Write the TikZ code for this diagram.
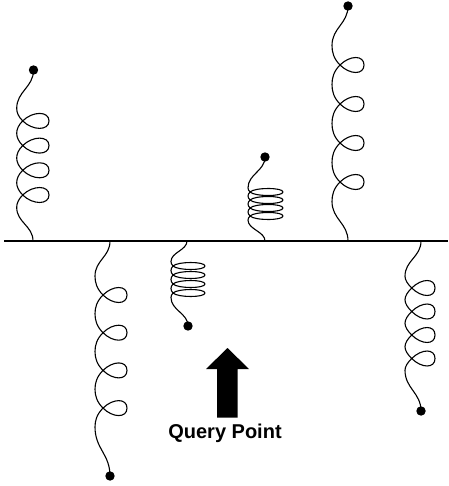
\documentclass[tikz,border=0pt]{standalone}
\usepackage{fontspec}
\setmainfont{Liberation Sans}
\pgfkeys{/spr/.is family,/spr,
  bx/.store in=\sbx, by/.store in=\sby, dx/.store in=\sdx, dy/.store in=\sdy,
  xc/.store in=\sxc, xl/.store in=\sxl, xr/.store in=\sxr, yone/.store in=\syone,
  d/.store in=\sd, n/.store in=\sn, h/.store in=\sh}
\tikzset{
  springline/.style={line width=1.1pt, line cap=round, line join=round},
  ground/.style={line width=1.8pt},
  dotmark/.style={fill=black},
  qarrow/.style={fill=black},
  qlabel/.style={font=\fontsize{20}{24}\selectfont\bfseries, inner sep=0pt}
}
\newcommand\drawspring[2]{%
  \pgfkeys{/spr,#2}%
  \pgfmathsetmacro\sf{sign(\sd)}%
  \pgfmathsetmacro\shs{(\sd)/2}%
  \pgfmathsetmacro\sa{1.33*\sh}%
  \pgfmathsetmacro\sb{abs(\sd)/6}%
  \pgfmathsetmacro\syB{\syone-(\shs)}%
  \pgfmathsetmacro\sL{abs(\syB-\sby)*0.45}%
  \pgfmathsetmacro\syN{\syone+(\sn-1)*(\sd)}%
  \pgfmathsetmacro\syE{\syN+(\shs)}%
  \pgfmathsetmacro\sLe{abs(\sdy-\syE)*0.45}%
  \coordinate (#1base) at (\sbx,\sby);
  \coordinate (#1end) at (\sdx,\sdy);
  \draw[springline] (#1base) .. controls (\sbx,{\sby+(\sf)*\sL}) and (\sxl,{\syB-(\sf)*\sL}) .. (\sxl,\syB)
    foreach \k in {1,...,\sn} {
      .. controls (\sxl,{\syone+(\k-1)*(\sd)-(\shs)+(\sf)*\sb}) and ({\sxc-\sb},{\syone+(\k-1)*(\sd)-(\sf)*\sb}) .. (\sxc,{\syone+(\k-1)*(\sd)})
      .. controls ({\sxc+\sa},{\syone+(\k-1)*(\sd)+(\sf)*\sa}) and (\sxr,{\syone+(\k-1)*(\sd)+(\sf)*\sa}) .. (\sxr,{\syone+(\k-1)*(\sd)})
      .. controls (\sxr,{\syone+(\k-1)*(\sd)-(\sf)*\sa}) and ({\sxc+\sa},{\syone+(\k-1)*(\sd)-(\sf)*\sa}) .. (\sxc,{\syone+(\k-1)*(\sd)})
      .. controls ({\sxc-\sb},{\syone+(\k-1)*(\sd)+(\sf)*\sb}) and (\sxl,{\syone+(\k-1)*(\sd)+(\shs)-(\sf)*\sb}) .. (\sxl,{\syone+(\k-1)*(\sd)+(\shs)})
    }
    .. controls (\sxl,{\syE+(\sf)*\sLe}) and (\sdx,{\sdy-(\sf)*\sLe}) .. (#1end);
  \fill[dotmark] (#1end) circle[radius=4.7pt];
}
\begin{document}
\begin{tikzpicture}[x=1pt,y=-1pt]
  \useasboundingbox (0,0) rectangle (448,486);
  \coordinate (gl) at (4,241);
  \coordinate (gr) at (448,241);
  \draw[ground] (gl) -- (gr);
  \drawspring{sA}{bx=33,by=241,dx=33.5,dy=70,xc=22.7,xl=16.7,xr=49,yone=195,d=-24.7,n=4,h=7.5}
  \drawspring{sB}{bx=265,by=241,dx=265,dy=157,xc=250,xl=248,xr=283,yone=216,d=-8,n=4,h=3.5}
  \drawspring{sC}{bx=348,by=241,dx=348,dy=6,xc=340,xl=332,xr=364,yone=182,d=-39,n=4,h=7.5}
  \drawspring{sD}{bx=110,by=241,dx=110,dy=476,xc=103,xl=95,xr=127,yone=295,d=37.7,n=4,h=7.5}
  \drawspring{sE}{bx=187,by=241,dx=188,dy=326,xc=173,xl=171,xr=205,yone=266,d=9,n=4,h=3.5}
  \drawspring{sF}{bx=421,by=241,dx=421,dy=411,xc=411.7,xl=405,xr=435,yone=288,d=23.5,n=4,h=7.5}
  \fill[qarrow] (227.5,348) -- (249,369) -- (237.5,369) -- (237.5,417.5) -- (217,417.5) -- (217,369) -- (206,369) -- cycle;
  \node[qlabel] (ql) at (225,433) {Query Point};
\end{tikzpicture}
\end{document}
